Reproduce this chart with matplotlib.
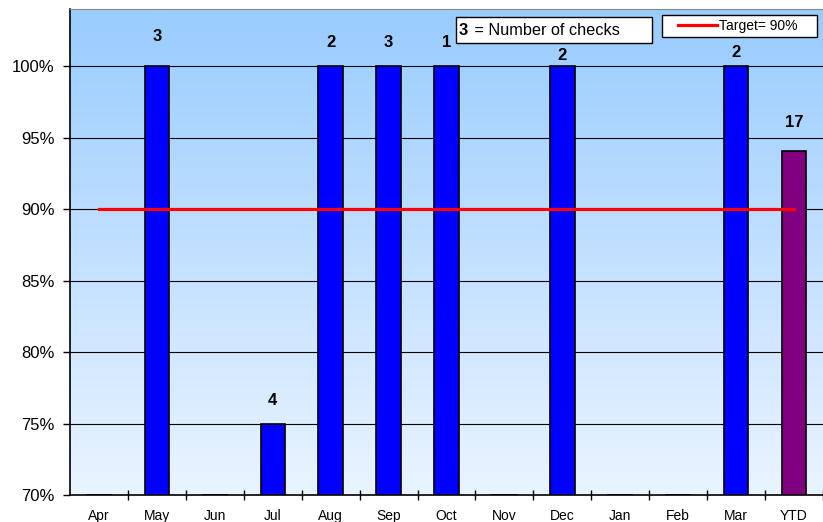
import matplotlib.pyplot as plt
from matplotlib.patches import Rectangle
from matplotlib.lines import Line2D
import numpy as np

plt.rcParams['font.family'] = ['Liberation Sans', 'DejaVu Sans']

months = ['Apr', 'May', 'Jun', 'Jul', 'Aug', 'Sep', 'Oct', 'Nov', 'Dec', 'Jan', 'Feb', 'Mar', 'YTD']
# percent passed, nan = no checks that month
pct = [np.nan, 100, np.nan, 75, 100, 100, 100, np.nan, 100, np.nan, np.nan, 100, 94.1]
checks = [None, 3, None, 4, 2, 3, 1, None, 2, None, None, 2, 17]
target = 90

# label lift above bar top, in points (Excel shuffles a few of them)
lift = [0, 16, 0, 11.5, 11.5, 11.5, 11.5, 0, 2, 0, 0, 4.5, 14.5]

W, H = 823., 522.
fig = plt.figure(figsize=(8.23, 5.22), dpi=100)
ax = fig.add_axes([70 / W, 27 / H, 753 / W, 486 / H])

# gradient background
grad = np.linspace(0, 1, 256).reshape(-1, 1)
top = np.array([153, 204, 255]) / 255.
bot = np.array([234, 244, 255]) / 255.
img = bot + (top - bot) * grad[:, :, None]
ax.imshow(img, extent=[0, 1, 0, 1], transform=ax.transAxes, aspect='auto', zorder=0, origin='lower')

x = np.arange(len(months))
cols = ['#0000FF'] * (len(months) - 1) + ['#800080']
vals = np.nan_to_num(np.array(pct, dtype=float), nan=0)
ax.bar(x, vals - 70, bottom=70, width=0.42, color=cols, edgecolor='black', linewidth=1.2, zorder=3)

for i in range(len(months)):
    if checks[i] is not None:
        ax.annotate(str(checks[i]), (x[i], pct[i]), xytext=(0, lift[i]), textcoords='offset points',
                    ha='center', va='bottom', fontsize=12, fontweight='bold', zorder=5)

ax.plot([x[0], x[-1]], [target, target], color='#FF0000', linewidth=2.3, zorder=4)

for yv in [75, 80, 85, 90, 95, 100]:
    ax.axhline(yv, color='black', linewidth=0.8, zorder=1)

ax.set_xlim(-0.5, len(months) - 0.5)
ax.set_ylim(70, 104)
ax.set_yticks([70, 75, 80, 85, 90, 95, 100])
ax.set_yticklabels(['%d%%' % v for v in [70, 75, 80, 85, 90, 95, 100]], fontsize=12)
ax.set_xticks(x + 0.5, minor=False)
ax.set_xticklabels([])
ax.set_xticks(x, minor=True)
ax.set_xticklabels(months, minor=True, fontsize=10)
ax.tick_params(axis='x', which='major', direction='inout', length=7, width=1)
ax.tick_params(axis='x', which='minor', length=0, pad=10)
ax.tick_params(axis='y', direction='out', length=5, width=1, pad=6)

ax.spines['top'].set_color('#888888')
ax.spines['right'].set_visible(False)
ax.spines['left'].set_linewidth(1.2)
ax.spines['bottom'].set_linewidth(1.2)

# "3 = Number of checks" box
fig.patches.append(Rectangle((456 / W, 1 - 43 / H), 196 / W, 26 / H, transform=fig.transFigure,
                             fc='white', ec='black', lw=1, zorder=8))
fig.text(459 / W, 1 - 30.5 / H, '3', fontsize=12, fontweight='bold', va='center', ha='left', zorder=10)
fig.text(470 / W, 1 - 30.5 / H, ' = Number of checks', fontsize=11.7, va='center', ha='left', zorder=10)

# legend box for the target line
fig.patches.append(Rectangle((662 / W, 1 - 37 / H), 155 / W, 22 / H, transform=fig.transFigure,
                             fc='white', ec='black', lw=1, zorder=8))
fig.lines.append(Line2D([678 / W, 717 / W], [1 - 25 / H, 1 - 25 / H], transform=fig.transFigure,
                        color='#FF0000', lw=2.3, zorder=9))
fig.text(719 / W, 1 - 26 / H, 'Target= %d%%' % target, fontsize=10, va='center', ha='left', zorder=10)

plt.savefig('out.png', dpi=100)
